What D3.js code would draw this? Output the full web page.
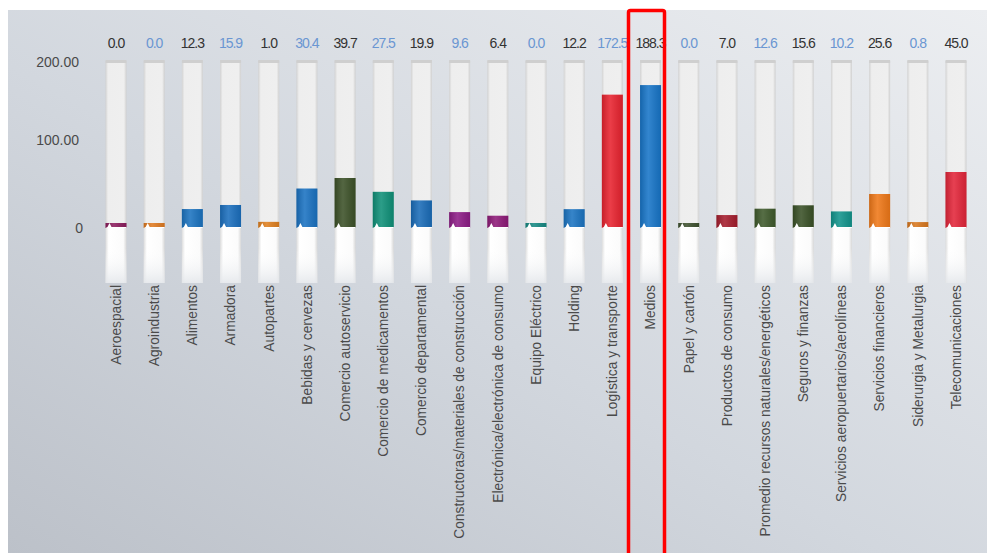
<!DOCTYPE html>
<meta charset="utf-8">
<style>
  body { margin: 0; background: #fff; }
  text { font-family: "Liberation Sans", Arial, sans-serif; }
  .axis path, .axis line { display: none; }
  .axis text { font-size: 14px; fill: #4a4a4a; }
  .val { font-size: 14px; letter-spacing: -1px; text-anchor: middle; }
  .cat { font-size: 13.8px; fill: #4a4a4a; text-anchor: end; }
</style>
<svg width="987" height="553"></svg>
<script src="https://d3js.org/d3.v7.min.js"></script>
<script>
  var categories = ["Aeroespacial", "Agroindustria", "Alimentos", "Armadora", "Autopartes",
    "Bebidas y cervezas", "Comercio autoservicio", "Comercio de medicamentos",
    "Comercio departamental", "Constructoras/materiales de construcción",
    "Electrónica/electrónica de consumo", "Equipo Eléctrico", "Holding",
    "Logística y transporte", "Medios", "Papel y cartón", "Productos de consumo",
    "Promedio recursos naturales/energéticos", "Seguros y finanzas",
    "Servicios aeropuertarios/aerolíneas", "Servicios financieros",
    "Siderurgia y Metalurgia", "Telecomunicaciones"];
  var values = [0.0, 0.0, 12.3, 15.9, 1.0, 30.4, 39.7, 27.5, 19.9, 9.6, 6.4, 0.0, 12.2,
    172.5, 188.3, 0.0, 7.0, 12.6, 15.6, 10.2, 25.6, 0.8, 45.0];
  var barColors = ["#8c1d5e", "#e07b22", "#1b73c0", "#1b6fbe", "#e0801f", "#1a72c2",
    "#3c5128", "#0f9078", "#1a6cb8", "#8d1c86", "#8e1a78", "#178a84", "#1b74c2",
    "#e8232f", "#1775c8", "#3f5230", "#a51d2d", "#3f5a2c", "#3a5127", "#12948c",
    "#ef7818", "#d9781e", "#e3263a"];
  var axisTicks = [0, 100, 200];

  var svg = d3.select("svg");
  var defs = svg.append("defs");

  var bg = defs.append("linearGradient").attr("id", "bg")
    .attr("x1", "0").attr("y1", "1").attr("x2", "1").attr("y2", "0");
  bg.append("stop").attr("offset", "0").attr("stop-color", "#bcc1c9");
  bg.append("stop").attr("offset", "0.45").attr("stop-color", "#d2d7de");
  bg.append("stop").attr("offset", "1").attr("stop-color", "#eceef1");

  var tube = defs.append("linearGradient").attr("id", "tube");
  tube.append("stop").attr("offset", "0").attr("stop-color", "#d2d2d2");
  tube.append("stop").attr("offset", "0.12").attr("stop-color", "#eeeeee");
  tube.append("stop").attr("offset", "0.88").attr("stop-color", "#efefef");
  tube.append("stop").attr("offset", "1").attr("stop-color", "#d0d0d0");

  var lower = defs.append("linearGradient").attr("id", "lower");
  lower.append("stop").attr("offset", "0").attr("stop-color", "#dcdcdc");
  lower.append("stop").attr("offset", "0.15").attr("stop-color", "#ffffff");
  lower.append("stop").attr("offset", "0.85").attr("stop-color", "#fbfbfb");
  lower.append("stop").attr("offset", "1").attr("stop-color", "#d8d8d8");

  var fade = defs.append("linearGradient").attr("id", "fade")
    .attr("x1", "0").attr("y1", "0").attr("x2", "0").attr("y2", "1");
  fade.append("stop").attr("offset", "0").attr("stop-color", "#fff").attr("stop-opacity", 0);
  fade.append("stop").attr("offset", "1").attr("stop-color", "#e4e7eb").attr("stop-opacity", 0.9);

  var gloss = defs.append("linearGradient").attr("id", "gloss");
  gloss.append("stop").attr("offset", "0").attr("stop-color", "#000").attr("stop-opacity", 0.15);
  gloss.append("stop").attr("offset", "0.4").attr("stop-color", "#fff").attr("stop-opacity", 0.12);
  gloss.append("stop").attr("offset", "1").attr("stop-color", "#000").attr("stop-opacity", 0.1);

  svg.append("rect").attr("x", 8).attr("y", 10).attr("width", 979).attr("height", 543)
    .attr("fill", "url(#bg)");

  var x = d3.scalePoint().domain(categories).range([116, 956]);
  var tubeW = 21;
  var tubeTop = 61, base = 228, tubeBottom = 283;

  // gauge scale is not linear in the original widget
  var y = d3.scaleLinear().domain([0, 45, 200]).range([223, 172, 78]);
  var yAxisScale = d3.scaleLinear().domain([0, 100, 200]).range([base, 140, 62]);

  var axis = svg.append("g").attr("class", "axis")
    .attr("transform", "translate(79,0)")
    .call(d3.axisLeft(yAxisScale).tickValues(axisTicks).tickSize(0).tickPadding(0)
      .tickFormat(function(d) { return d === 0 ? "0" : d3.format(".2f")(d); }));
  axis.selectAll("text").attr("fill", function(d) { return d === 100 ? "#5d8fd0" : "#4a4a4a"; })
    .attr("x", function(d) { return d === 0 ? 4 : 0; });

  var g = svg.selectAll(".gauge").data(categories).enter().append("g").attr("class", "gauge");

  g.append("rect")
    .attr("x", function(d) { return x(d) - tubeW / 2; })
    .attr("y", tubeTop).attr("width", tubeW).attr("height", base - tubeTop)
    .attr("fill", "url(#tube)");
  g.append("rect")
    .attr("x", function(d) { return x(d) - tubeW / 2; })
    .attr("y", tubeTop - 1).attr("width", tubeW).attr("height", 3)
    .attr("fill", "#cfcfcf");
  g.append("rect")
    .attr("x", function(d) { return x(d) - tubeW / 2; })
    .attr("y", base).attr("width", tubeW).attr("height", tubeBottom - base)
    .attr("fill", "url(#lower)");
  g.append("rect")
    .attr("x", function(d) { return x(d) - tubeW / 2; })
    .attr("y", base + 20).attr("width", tubeW).attr("height", tubeBottom - base - 20)
    .attr("fill", "url(#fade)");

  g.append("rect")
    .attr("x", function(d) { return x(d) - tubeW / 2; })
    .attr("y", function(d, i) { return y(values[i]); })
    .attr("width", tubeW)
    .attr("height", function(d, i) { return base - y(values[i]); })
    .attr("fill", function(d, i) { return barColors[i]; });
  g.append("rect")
    .attr("x", function(d) { return x(d) - tubeW / 2; })
    .attr("y", function(d, i) { return y(values[i]); })
    .attr("width", tubeW)
    .attr("height", function(d, i) { return base - y(values[i]); })
    .attr("fill", "url(#gloss)");
  // small meniscus notch at the bottom of each bar
  g.append("path")
    .attr("d", function(d) {
      var x0 = x(d) - tubeW / 2;
      return "M" + x0 + "," + base + "L" + (x0 + 2) + "," + (base - 1) +
        "L" + (x0 + 4) + "," + (base - 5) + "L" + (x0 + 6) + "," + (base - 1) +
        "L" + (x0 + tubeW) + "," + (base - 1) + "L" + (x0 + tubeW) + "," + base + "Z";
    })
    .attr("fill", "#ffffff");

  svg.selectAll(".val").data(values).enter().append("text")
    .attr("class", "val")
    .attr("x", function(d, i) { return x(categories[i]); })
    .attr("y", 48)
    .attr("fill", function(d, i) { return i % 2 ? "#6a96d2" : "#333333"; })
    .text(function(d) { return d3.format(".1f")(d); });

  svg.selectAll(".cat").data(categories).enter().append("text")
    .attr("class", "cat")
    .attr("transform", function(d) { return "translate(" + x(d) + ",285) rotate(-90)"; })
    .attr("dy", "0.35em")
    .text(function(d) { return d; });

  svg.append("rect").attr("x", 628.5).attr("y", 10.5).attr("width", 36).attr("height", 560)
    .attr("rx", 2).attr("fill", "none").attr("stroke", "#ff0000").attr("stroke-width", 3.5);
</script>
